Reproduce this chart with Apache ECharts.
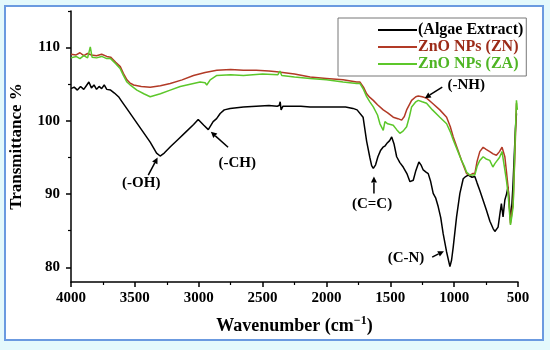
<!DOCTYPE html>
<html><head><meta charset="utf-8">
<script src="https://cdn.jsdelivr.net/npm/echarts@6/dist/echarts.min.js"></script>
<style>html,body{margin:0;padding:0;background:#e4f9fc}#c{width:550px;height:350px}</style>
</head><body><div id="c"></div>
<script>
// ---- data ----
const xTicks = [500,1000,1500,2000,2500,3000,3500,4000];
const yTickLabels = [80,90,100,110];
const yMinorTicks = [85,95,105,115];

const algaeW = [4000,3975,3950,3925,3900,3880,3860,3840,3820,3800,3780,3760,3740,3720,3690,3660,3628,3600,3560,3500,3440,3380,3330,3302,3270,3220,3160,3100,3040,3004,2960,2925,2887,2860,2832,2800,2754,2650,2550,2450,2386,2370,2362,2355,2340,2300,2200,2128,2000,1900,1850,1792,1760,1713,1685,1660,1646,1633,1615,1597,1575,1557,1540,1528,1505,1489,1470,1450,1425,1399,1370,1346,1320,1300,1276,1260,1242,1220,1203,1185,1164,1145,1125,1105,1086,1059,1033,1020,1007,981,955,929,910,890,860,838,820,799,770,747,720,695,681,668,656,640,630,617,603,590,578,565,559,550,540,530,520,512];
const algaeT = [104.4,104.6,104.2,104.7,104.3,104.8,105.3,104.5,104.9,104.3,104.7,104.4,104.9,104.3,104.2,103.8,103.3,102.6,101.6,100.1,98.6,97.1,95.6,95.2,95.6,96.5,97.5,98.5,99.5,100.2,99.4,98.8,99.9,100.3,101.0,101.5,101.7,101.9,102.0,102.1,102.0,102.1,102.6,101.5,102.0,102.0,102.0,101.9,101.9,101.9,101.9,101.7,101.5,100.5,97.2,95.0,93.9,93.5,94.0,95.1,96.0,96.4,96.6,96.9,97.3,97.8,96.8,95.1,94.3,93.7,92.8,91.7,91.9,93.2,94.4,94.0,93.3,93.0,92.8,91.8,90.1,89.5,88.3,86.8,84.6,82.1,80.1,81.0,82.8,86.9,90.1,92.1,92.4,92.6,92.3,92.4,91.5,90.5,89.0,87.8,86.3,85.3,84.9,85.0,85.5,87.5,88.7,86.9,89.2,90.0,91.0,88.0,86.5,88.0,91.0,95.0,99.0,101.0];

const znW = [4000,3960,3930,3900,3870,3840,3800,3760,3720,3690,3650,3614,3590,3562,3540,3510,3450,3380,3300,3223,3130,3041,2950,2858,2750,2650,2550,2450,2389,2250,2128,2000,1870,1763,1737,1710,1685,1660,1633,1600,1555,1520,1477,1440,1411,1390,1372,1333,1300,1281,1250,1216,1170,1112,1059,1030,1007,970,942,920,903,877,855,838,820,799,773,750,721,695,669,645,625,603,590,578,559,548,538,525,512];
const znT = [109.1,109.0,109.3,108.9,109.2,109.0,108.9,109.1,108.8,108.7,108.0,107.4,106.5,105.6,105.2,104.9,104.7,104.6,104.8,105.1,105.6,106.2,106.6,106.9,107.0,106.9,106.9,106.8,106.7,106.4,106.0,105.8,105.6,105.3,105.3,104.6,103.7,103.2,102.8,102.2,101.5,101.1,100.5,100.3,100.1,100.6,101.5,102.8,103.3,103.4,103.3,103.1,102.4,101.5,100.5,99.2,97.8,96.0,94.6,93.6,92.8,92.6,92.8,92.8,94.5,95.8,96.4,96.1,95.8,95.5,95.3,95.8,96.4,95.1,93.0,91.0,86.0,87.5,88.7,95.0,102.4];

const zaW = [4000,3960,3930,3900,3870,3849,3835,3800,3760,3720,3690,3650,3614,3590,3562,3530,3484,3430,3380,3300,3223,3145,3041,2989,2950,2937,2910,2858,2750,2650,2500,2380,2364,2350,2250,2128,2000,1870,1763,1737,1710,1685,1660,1633,1600,1581,1555,1542,1520,1477,1450,1425,1400,1372,1350,1333,1300,1281,1250,1216,1170,1112,1059,1030,1007,970,942,920,903,877,838,820,799,773,750,721,697,680,669,645,625,603,590,578,559,548,538,525,512,505];
const zaT = [108.6,108.8,108.5,108.9,108.6,110.1,108.7,108.6,108.8,108.5,108.5,107.8,107.1,106.2,105.3,104.8,104.2,103.7,103.3,103.7,104.2,104.7,105.1,105.3,105.2,104.9,105.6,106.2,106.3,106.2,106.4,106.3,106.8,106.2,106.0,105.8,105.6,105.3,105.1,105.1,104.3,103.3,102.6,101.9,100.8,99.6,98.7,99.9,99.6,99.4,98.8,98.3,98.6,99.2,100.6,101.9,102.6,102.8,102.6,102.4,101.5,100.5,99.6,98.5,97.4,95.8,94.6,93.8,93.0,92.6,92.6,93.8,94.6,95.1,94.8,94.6,93.7,94.2,94.4,95.0,95.8,93.3,91.8,90.1,85.8,87.0,88.3,96.0,102.8,101.5];

const seriesNames = ['(Algae Extract)','ZnO NPs (ZN)','ZnO NPs (ZA)'];
const seriesColors = ['#000000','#b23a26','#5cc72a'];
const legendTextColors = ['#000000','#9c2b18','#4fb524'];

// annotation labels: [text, textW, textT, arrowFromW, arrowFromT, arrowToW, arrowToT]
const notes = [
  ['(-OH)', 3450, 91.5, 3395, 92.6, 3322, 95.0],
  ['(-CH)', 2698, 94.2, 2770, 96.4, 2905, 98.5],
  ['(C=C)', 1643, 88.6, 1628, 90.1, 1628, 92.4],
  ['(C-N)', 1377, 81.3, 1172, 81.4, 1080, 82.2],
  ['(-NH)', 905, 104.9, 1093, 104.6, 1230, 103.1]
];

const zip = (a,b) => a.map((w,i)=>[w,b[i]]);
const serif = '"Liberation Serif","DejaVu Serif",serif';

const chart = echarts.init(document.getElementById('c'));
const option = {
  animation:false,
  backgroundColor:'#e4f9fc',
  grid:{left:71,right:32,top:11,bottom:68},
  legend:{
    left:338, top:18, orient:'vertical',
    padding:[4,3,4,40], itemGap:1,
    borderColor:'#777', borderWidth:1, backgroundColor:'#fff',
    itemWidth:39, itemHeight:2, icon:'rect',
    textStyle:{fontFamily:serif,fontWeight:'bold',fontSize:16,lineHeight:16,padding:[0,0,0,-4]},
    data:seriesNames.map((n,i)=>({name:n,textStyle:{color:legendTextColors[i]}}))
  },
  xAxis:{
    type:'value', inverse:true, min:500, max:4000, interval:500,
    axisLine:{lineStyle:{color:'#000',width:1.5}},
    axisTick:{show:true,length:5,lineStyle:{color:'#000',width:1.5}},
    minorTick:{show:true,splitNumber:2,length:3,lineStyle:{color:'#000',width:1.2}},
    splitLine:{show:false},
    axisLabel:{color:'#000',fontFamily:serif,fontWeight:'bold',fontSize:15,margin:9,
      customValues:xTicks, formatter:v=>String(v)},
    name:'{a|Wavenumber (cm}{s|−1}{a|)}',
    nameLocation:'middle', nameGap:33,
    nameTextStyle:{rich:{
      a:{fontFamily:serif,fontWeight:'bold',fontSize:18,color:'#000'},
      s:{fontFamily:serif,fontWeight:'bold',fontSize:12,color:'#000',padding:[0,0,10,0]}
    }}
  },
  yAxis:[{
    type:'value', min:78, max:115,
    axisLine:{show:true,lineStyle:{color:'#000',width:1.5}},
    axisTick:{show:true,length:5,customValues:yTickLabels,lineStyle:{color:'#000',width:1.5}},
    splitLine:{show:false},
    axisLabel:{color:'#000',fontFamily:serif,fontWeight:'bold',fontSize:15,margin:11,
      customValues:yTickLabels, formatter:v=>String(v)},
    name:'Transmittance %', nameLocation:'middle', nameGap:46, nameRotate:90,
    nameTextStyle:{fontFamily:serif,fontWeight:'bold',fontSize:17,color:'#000'}
  },{
    type:'value', min:78, max:115, position:'left',
    axisLine:{show:false},
    axisTick:{show:true,length:3,customValues:yMinorTicks,lineStyle:{color:'#000',width:1.2}},
    axisLabel:{show:false}, splitLine:{show:false}
  }],
  series:[
    {name:seriesNames[0],type:'line',data:zip(algaeW,algaeT),showSymbol:false,symbol:'none',
      lineStyle:{color:seriesColors[0],width:1.5},itemStyle:{color:seriesColors[0]}},
    {name:seriesNames[1],type:'line',data:zip(znW,znT),showSymbol:false,symbol:'none',
      lineStyle:{color:seriesColors[1],width:1.5},itemStyle:{color:seriesColors[1]}},
    {name:seriesNames[2],type:'line',data:zip(zaW,zaT),showSymbol:false,symbol:'none',
      lineStyle:{color:seriesColors[2],width:1.5},itemStyle:{color:seriesColors[2]}}
  ]
};
chart.setOption(option);

// frame + annotations, positioned from data coordinates
const g = [];
g.push({type:'rect',z:-10,shape:{x:5,y:6,width:538,height:334},
  style:{fill:'#fff',stroke:'#6b9ae0',lineWidth:2},silent:true});
notes.forEach(n=>{
  const t = chart.convertToPixel({gridIndex:0},[n[1],n[2]]);
  const a = chart.convertToPixel({gridIndex:0},[n[3],n[4]]);
  const b = chart.convertToPixel({gridIndex:0},[n[5],n[6]]);
  g.push({type:'text',x:t[0],y:t[1],style:{text:n[0],fontFamily:serif,fontWeight:'bold',fontSize:15,
    fill:'#000',align:'center',verticalAlign:'middle'},z:20});
  const dx=b[0]-a[0], dy=b[1]-a[1], L=Math.hypot(dx,dy), ux=dx/L, uy=dy/L;
  const hl=6, hw=3;
  const bx=b[0]-ux*hl, by=b[1]-uy*hl;
  g.push({type:'line',shape:{x1:a[0],y1:a[1],x2:bx,y2:by},style:{stroke:'#000',lineWidth:1.5},z:20});
  g.push({type:'polygon',shape:{points:[[b[0],b[1]],[bx-uy*hw,by+ux*hw],[bx+uy*hw,by-ux*hw]]},
    style:{fill:'#000'},z:20});
});
chart.setOption({graphic:g});
</script></body></html>
